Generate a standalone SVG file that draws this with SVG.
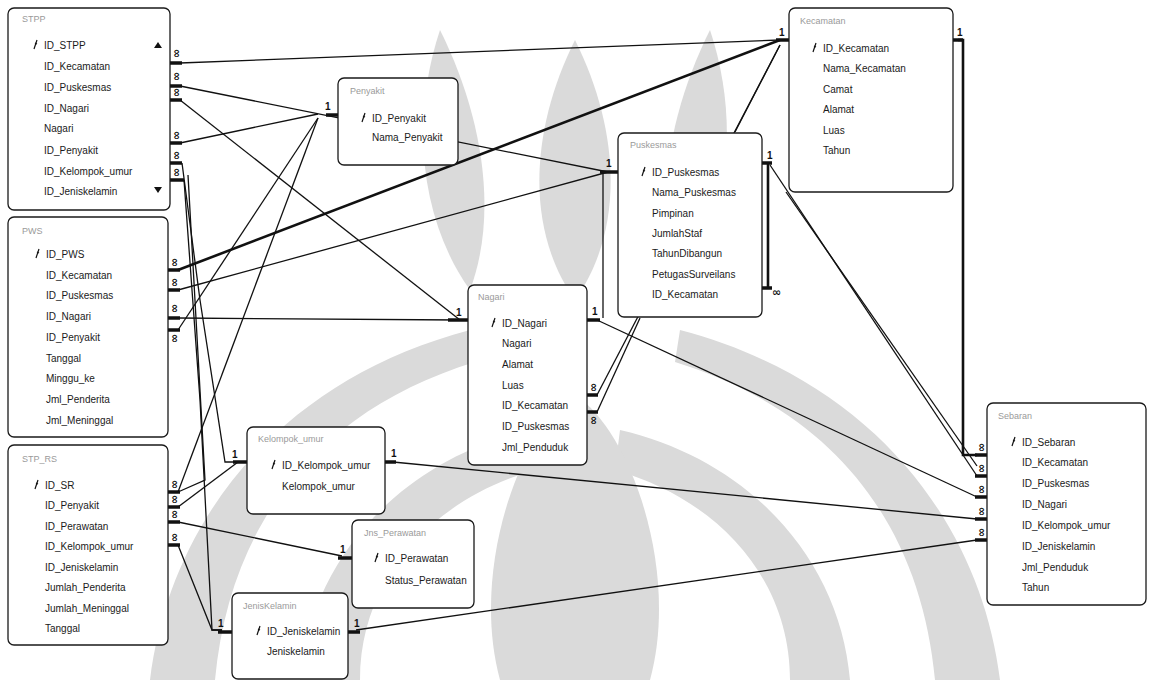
<svg xmlns="http://www.w3.org/2000/svg" width="1149" height="680" viewBox="0 0 1149 680">
<style>
.wm{fill:#dadada}
.box{fill:#fff;stroke:#1a1a1a;stroke-width:1.3}
.ttl{font-family:"Liberation Sans",Arial,sans-serif;font-size:9px;fill:#9a9a9a}
.fld{font-family:"Liberation Sans",Arial,sans-serif;font-size:10px;fill:#1a1a1a}
.ln{fill:none;stroke:#111;stroke-width:1.3}
.thk{fill:none;stroke:#111;stroke-width:2.6}
.stub{stroke:#111;stroke-width:3.5}
.one{font-family:"Liberation Sans",Arial,sans-serif;font-size:10px;font-weight:bold;fill:#111}
.inf{font-family:"DejaVu Sans",sans-serif;font-size:11px;font-weight:bold;fill:#111}
.key{fill:none;stroke:#111;stroke-width:1.2}
.arr{fill:#111}
</style>
<defs>
<path id="k" d="M0 0 l3 -9 M1 -6 l2 1" />
</defs>
<rect width="1149" height="680" fill="#fff"/>
<g id="watermark">
<path class="wm" d="M150 680 C170 520 280 380 470 330 L475 362 C320 410 230 520 215 680 Z"/>
<path class="wm" d="M300 680 C310 560 400 460 530 430 L535 470 C430 500 360 580 360 680 Z"/>
<path class="wm" d="M1000 680 C980 520 870 380 680 330 L675 362 C830 410 920 520 935 680 Z"/>
<path class="wm" d="M850 680 C840 560 750 460 620 430 L615 470 C720 500 790 580 790 680 Z"/>
<path class="wm" d="M500 680 C470 570 520 430 575 395 C630 430 680 570 650 680 Z"/>
<path class="wm" d="M575 300 C525 230 530 130 575 40 C620 130 625 230 575 300 Z"/>
<path class="wm" d="M470 290 C420 220 410 120 440 30 C480 110 500 210 470 290 Z"/>
<path class="wm" d="M680 290 C730 220 740 120 710 30 C670 110 650 210 680 290 Z"/>
</g>
<g id="connectors">
<path class="ln" d="M180 63 L780 40"/>
<path class="ln" d="M180 86 L608 172"/>
<path class="ln" d="M180 100 L460 320"/>
<path class="ln" d="M180 143 L318 114"/>
<path class="ln" d="M182 163 L200 300 L225 462 L238 462"/>
<path class="ln" d="M184 180 L200 400 L212 630 L222 630"/>
<path class="thk" d="M178 270 L780 40"/>
<path class="ln" d="M178 290 L608 172"/>
<path class="ln" d="M178 318 L460 320"/>
<path class="ln" d="M178 330 L318 118"/>
<path class="ln" d="M178 492 L318 118"/>
<path class="ln" d="M178 507 L238 462"/>
<path class="ln" d="M178 522 L342 556"/>
<path class="ln" d="M178 545 L212 630 L222 630"/>
<path class="ln" d="M188 175 L205 480 L178 492"/>
<path class="ln" d="M735 132 L780 45"/>
<path class="ln" d="M597 395 L780 45"/>
<path class="ln" d="M597 412 L640 318"/>
<path class="ln" d="M603 172 L603 318"/>
<path class="thk" d="M768 163 L768 288"/>
<path class="thk" d="M958 40 L963 40 L963 455 L977 455"/>
<path class="ln" d="M770 165 L977 476"/>
<path class="ln" d="M786 192 L977 466"/>
<path class="ln" d="M597 320 L977 497"/>
<path class="ln" d="M393 462 L977 519"/>
<path class="ln" d="M356 630 L977 540"/>
<g id="stubs">
<line class="stub" x1="170" y1="63" x2="182" y2="63"/>
<line class="stub" x1="170" y1="86" x2="182" y2="86"/>
<line class="stub" x1="170" y1="100" x2="182" y2="100"/>
<line class="stub" x1="170" y1="143" x2="182" y2="143"/>
<line class="stub" x1="170" y1="163" x2="182" y2="163"/>
<line class="stub" x1="170" y1="180" x2="184" y2="180"/>
<line class="stub" x1="168" y1="270" x2="180" y2="270"/>
<line class="stub" x1="168" y1="290" x2="180" y2="290"/>
<line class="stub" x1="168" y1="318" x2="180" y2="318"/>
<line class="stub" x1="168" y1="330" x2="180" y2="330"/>
<line class="stub" x1="168" y1="492" x2="180" y2="492"/>
<line class="stub" x1="168" y1="507" x2="180" y2="507"/>
<line class="stub" x1="168" y1="522" x2="180" y2="522"/>
<line class="stub" x1="168" y1="545" x2="180" y2="545"/>
<line class="stub" x1="326" y1="115" x2="338" y2="115"/>
<line class="stub" x1="448" y1="320" x2="468" y2="320"/>
<line class="stub" x1="587" y1="320" x2="600" y2="320"/>
<line class="stub" x1="587" y1="395" x2="598" y2="395"/>
<line class="stub" x1="587" y1="412" x2="598" y2="412"/>
<line class="stub" x1="600" y1="172" x2="618" y2="172"/>
<line class="stub" x1="762" y1="163" x2="772" y2="163"/>
<line class="stub" x1="762" y1="288" x2="772" y2="288"/>
<line class="stub" x1="776" y1="40" x2="789" y2="40"/>
<line class="stub" x1="953" y1="40" x2="963" y2="40"/>
<line class="stub" x1="233" y1="462" x2="247" y2="462"/>
<line class="stub" x1="385" y1="462" x2="396" y2="462"/>
<line class="stub" x1="338" y1="558" x2="352" y2="558"/>
<line class="stub" x1="218" y1="632" x2="232" y2="632"/>
<line class="stub" x1="348" y1="632" x2="360" y2="632"/>
<line class="stub" x1="975" y1="455" x2="987" y2="455"/>
<line class="stub" x1="975" y1="476" x2="987" y2="476"/>
<line class="stub" x1="975" y1="497" x2="987" y2="497"/>
<line class="stub" x1="975" y1="519" x2="987" y2="519"/>
<line class="stub" x1="975" y1="540" x2="987" y2="540"/>
</g>
<g id="labels">
<text class="inf" transform="translate(180 58) rotate(-90)">∞</text>
<text class="inf" transform="translate(180 81) rotate(-90)">∞</text>
<text class="inf" transform="translate(180 97) rotate(-90)">∞</text>
<text class="inf" transform="translate(180 140) rotate(-90)">∞</text>
<text class="inf" transform="translate(180 160) rotate(-90)">∞</text>
<text class="inf" transform="translate(180 177) rotate(-90)">∞</text>
<text class="inf" transform="translate(178 267) rotate(-90)">∞</text>
<text class="inf" transform="translate(178 287) rotate(-90)">∞</text>
<text class="inf" transform="translate(178 313) rotate(-90)">∞</text>
<text class="inf" transform="translate(178 343) rotate(-90)">∞</text>
<text class="inf" transform="translate(178 489) rotate(-90)">∞</text>
<text class="inf" transform="translate(178 504) rotate(-90)">∞</text>
<text class="inf" transform="translate(178 519) rotate(-90)">∞</text>
<text class="inf" transform="translate(178 542) rotate(-90)">∞</text>
<text class="inf" transform="translate(597 392) rotate(-90)">∞</text>
<text class="inf" transform="translate(597 425) rotate(-90)">∞</text>
<text class="inf" transform="translate(772 296)">∞</text>
<text class="inf" transform="translate(985 452) rotate(-90)">∞</text>
<text class="inf" transform="translate(985 473) rotate(-90)">∞</text>
<text class="inf" transform="translate(985 494) rotate(-90)">∞</text>
<text class="inf" transform="translate(985 516) rotate(-90)">∞</text>
<text class="inf" transform="translate(985 537) rotate(-90)">∞</text>
<text class="one" x="325" y="110">1</text>
<text class="one" x="456" y="316">1</text>
<text class="one" x="592" y="315">1</text>
<text class="one" x="606" y="167">1</text>
<text class="one" x="767" y="159">1</text>
<text class="one" x="779" y="36">1</text>
<text class="one" x="957" y="36">1</text>
<text class="one" x="232" y="458">1</text>
<text class="one" x="391" y="457">1</text>
<text class="one" x="340" y="553">1</text>
<text class="one" x="218" y="627">1</text>
<text class="one" x="354" y="627">1</text>
</g>
</g>
<g id="tbl_stpp">
<rect class="box" x="8" y="8" width="162" height="202" rx="6"/>
<text class="ttl" x="22" y="22">STPP</text>
<use href="#k" class="key" x="34" y="49"/>
<text class="fld" x="44" y="49">ID_STPP</text>
<text class="fld" x="44" y="70">ID_Kecamatan</text>
<text class="fld" x="44" y="91">ID_Puskesmas</text>
<text class="fld" x="44" y="112">ID_Nagari</text>
<text class="fld" x="44" y="132">Nagari</text>
<text class="fld" x="44" y="154">ID_Penyakit</text>
<text class="fld" x="44" y="175">ID_Kelompok_umur</text>
<text class="fld" x="44" y="195">ID_Jeniskelamin</text>
<path class="arr" d="M154 48 L162 48 L158 42 Z"/>
<path class="arr" d="M154 187 L162 187 L158 193 Z"/>
</g>
<g id="tbl_pws">
<rect class="box" x="8" y="217" width="160" height="220" rx="6"/>
<text class="ttl" x="22" y="234">PWS</text>
<use href="#k" class="key" x="36" y="258"/>
<text class="fld" x="46" y="258">ID_PWS</text>
<text class="fld" x="46" y="279">ID_Kecamatan</text>
<text class="fld" x="46" y="299">ID_Puskesmas</text>
<text class="fld" x="46" y="320">ID_Nagari</text>
<text class="fld" x="46" y="341">ID_Penyakit</text>
<text class="fld" x="46" y="362">Tanggal</text>
<text class="fld" x="46" y="382">Minggu_ke</text>
<text class="fld" x="46" y="403">Jml_Penderita</text>
<text class="fld" x="46" y="424">Jml_Meninggal</text>
</g>
<g id="tbl_stprs">
<rect class="box" x="8" y="445" width="160" height="200" rx="6"/>
<text class="ttl" x="22" y="462">STP_RS</text>
<use href="#k" class="key" x="35" y="489"/>
<text class="fld" x="45" y="489">ID_SR</text>
<text class="fld" x="45" y="509">ID_Penyakit</text>
<text class="fld" x="45" y="530">ID_Perawatan</text>
<text class="fld" x="45" y="550">ID_Kelompok_umur</text>
<text class="fld" x="45" y="571">ID_Jeniskelamin</text>
<text class="fld" x="45" y="591">Jumlah_Penderita</text>
<text class="fld" x="45" y="612">Jumlah_Meninggal</text>
<text class="fld" x="45" y="632">Tanggal</text>
</g>
<g id="tbl_penyakit">
<rect class="box" x="338" y="78" width="120" height="87" rx="6"/>
<text class="ttl" x="350" y="94">Penyakit</text>
<use href="#k" class="key" x="362" y="122"/>
<text class="fld" x="372" y="122">ID_Penyakit</text>
<text class="fld" x="372" y="141">Nama_Penyakit</text>
</g>
<g id="tbl_puskesmas">
<rect class="box" x="618" y="133" width="144" height="184" rx="6"/>
<text class="ttl" x="630" y="148">Puskesmas</text>
<use href="#k" class="key" x="642" y="176"/>
<text class="fld" x="652" y="176">ID_Puskesmas</text>
<text class="fld" x="652" y="196">Nama_Puskesmas</text>
<text class="fld" x="652" y="217">Pimpinan</text>
<text class="fld" x="652" y="237">JumlahStaf</text>
<text class="fld" x="652" y="257">TahunDibangun</text>
<text class="fld" x="652" y="278">PetugasSurveilans</text>
<text class="fld" x="652" y="298">ID_Kecamatan</text>
</g>
<g id="tbl_kecamatan">
<rect class="box" x="789" y="8" width="164" height="184" rx="6"/>
<text class="ttl" x="800" y="24">Kecamatan</text>
<use href="#k" class="key" x="813" y="52"/>
<text class="fld" x="823" y="52">ID_Kecamatan</text>
<text class="fld" x="823" y="72">Nama_Kecamatan</text>
<text class="fld" x="823" y="93">Camat</text>
<text class="fld" x="823" y="113">Alamat</text>
<text class="fld" x="823" y="134">Luas</text>
<text class="fld" x="823" y="154">Tahun</text>
</g>
<g id="tbl_nagari">
<rect class="box" x="468" y="285" width="119" height="180" rx="6"/>
<text class="ttl" x="478" y="300">Nagari</text>
<use href="#k" class="key" x="492" y="327"/>
<text class="fld" x="502" y="327">ID_Nagari</text>
<text class="fld" x="502" y="347">Nagari</text>
<text class="fld" x="502" y="368">Alamat</text>
<text class="fld" x="502" y="389">Luas</text>
<text class="fld" x="502" y="409">ID_Kecamatan</text>
<text class="fld" x="502" y="430">ID_Puskesmas</text>
<text class="fld" x="502" y="451">Jml_Penduduk</text>
</g>
<g id="tbl_kelompok_umur">
<rect class="box" x="247" y="427" width="138" height="87" rx="6"/>
<text class="ttl" x="258" y="442">Kelompok_umur</text>
<use href="#k" class="key" x="272" y="469"/>
<text class="fld" x="282" y="469">ID_Kelompok_umur</text>
<text class="fld" x="282" y="490">Kelompok_umur</text>
</g>
<g id="tbl_perawatan">
<rect class="box" x="352" y="520" width="122" height="88" rx="6"/>
<text class="ttl" x="364" y="536">Jns_Perawatan</text>
<use href="#k" class="key" x="375" y="562"/>
<text class="fld" x="385" y="562">ID_Perawatan</text>
<text class="fld" x="385" y="584">Status_Perawatan</text>
</g>
<g id="tbl_jeniskelamin">
<rect class="box" x="232" y="593" width="116" height="86" rx="6"/>
<text class="ttl" x="243" y="609">JenisKelamin</text>
<use href="#k" class="key" x="257" y="635"/>
<text class="fld" x="267" y="635">ID_Jeniskelamin</text>
<text class="fld" x="267" y="655">Jeniskelamin</text>
</g>
<g id="tbl_sebaran">
<rect class="box" x="987" y="403" width="159" height="202" rx="6"/>
<text class="ttl" x="998" y="419">Sebaran</text>
<use href="#k" class="key" x="1012" y="446"/>
<text class="fld" x="1022" y="446">ID_Sebaran</text>
<text class="fld" x="1022" y="466">ID_Kecamatan</text>
<text class="fld" x="1022" y="487">ID_Puskesmas</text>
<text class="fld" x="1022" y="508">ID_Nagari</text>
<text class="fld" x="1022" y="529">ID_Kelompok_umur</text>
<text class="fld" x="1022" y="550">ID_Jeniskelamin</text>
<text class="fld" x="1022" y="571">Jml_Penduduk</text>
<text class="fld" x="1022" y="591">Tahun</text>
</g>
</svg>
